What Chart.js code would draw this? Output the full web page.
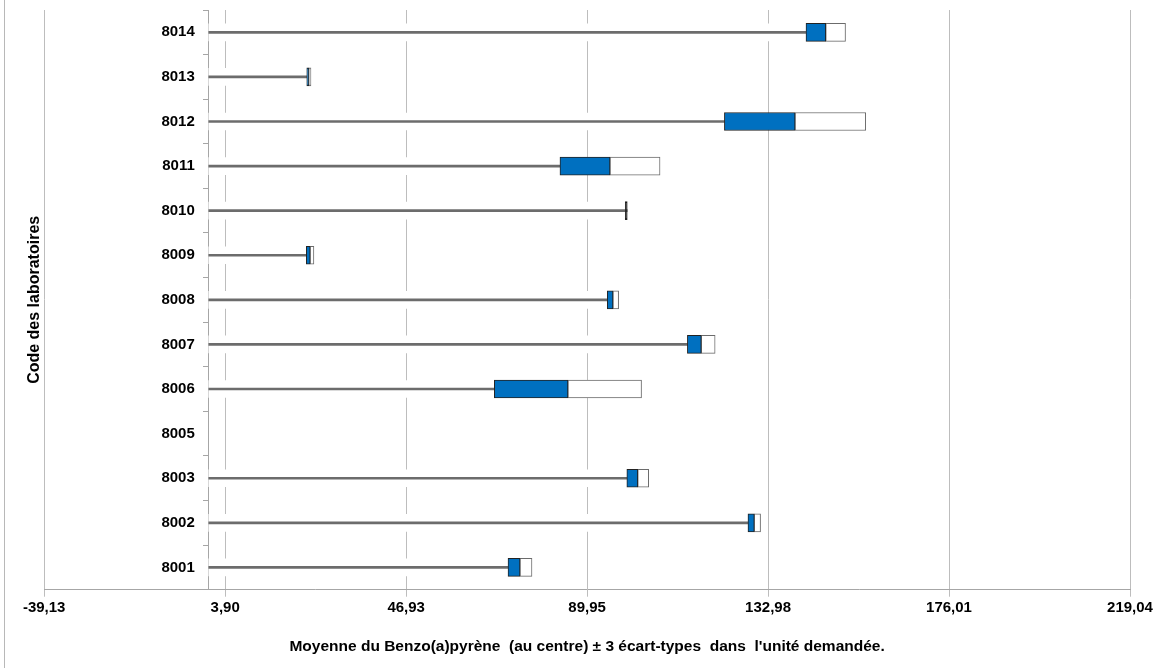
<!DOCTYPE html>
<html lang="fr">
<head>
<meta charset="utf-8">
<title>Benzo(a)pyrène : moyenne ± 3 écart-types par laboratoire</title>
<script src="https://cdn.jsdelivr.net/npm/chart.js@4.4.1/dist/chart.umd.min.js"></script>
<style>
  html, body { margin: 0; padding: 0; background: #fff; }
  #wrap { position: relative; width: 1166px; height: 668px; }
  #cadre { position: absolute; left: 4px; top: 0; width: 1px; height: 668px; background: #b8b8b8; }
  canvas { position: absolute; left: 0; top: 0; }
</style>
</head>
<body>
<div id="wrap">
  <div id="cadre"></div>
  <canvas id="graphique" width="1166" height="668"></canvas>
</div>
<script>
// Codes des laboratoires, du haut vers le bas
const laboratoires = ['8014', '8013', '8012', '8011', '8010', '8009', '8008', '8007', '8006', '8005', '8003', '8002', '8001'];
// Moyenne de chaque laboratoire (null : pas de résultat)
const moyennes = [146.7, 23.8, 139.4, 95.4, 99.5, 24.1, 96.1, 117.1, 85.4, null, 102.0, 129.7, 74.0];
// Trois écarts-types de chaque laboratoire
const troisEcartTypes = [4.7, 0.5, 16.8, 11.9, 0, 0.9, 1.35, 3.3, 17.5, null, 2.6, 1.5, 2.85];
// Graduations de l'axe horizontal
const graduationsX = [-39.13, 3.90, 46.93, 89.95, 132.98, 176.01, 219.04];

const bornesBasses = moyennes.map((m, i) => m == null ? null : m - troisEcartTypes[i]);
const bornesHautes = moyennes.map((m, i) => m == null ? null : m + troisEcartTypes[i]);
const traits = bornesBasses.map(b => b == null ? null : [0, b]);
const partiesBleues = moyennes.map((m, i) => m == null ? null : [bornesBasses[i], m]);
const partiesBlanches = moyennes.map((m, i) => m == null ? null : [m, bornesHautes[i]]);

// Écart (px) entre l'axe des laboratoires et leurs codes
const ECART_CODES = 14;

Chart.defaults.font.family = "'Liberation Sans', Arial, sans-serif";

// Un écart-type nul se réduit à un simple trait noir
const couleurBleue = (ctx) => troisEcartTypes[ctx.dataIndex] === 0 ? '#111111' : '#0070c0';

new Chart(document.getElementById('graphique'), {
  type: 'bar',
  data: {
    labels: laboratoires,
    datasets: [
      { label: 'fond', data: traits, backgroundColor: '#ffffff', borderWidth: 0,
        barThickness: 17, grouped: false, order: 4 },
      { label: 'trait', data: traits, backgroundColor: '#6c6c6c', borderWidth: 0,
        barThickness: 2, grouped: false, order: 3 },
      { label: '+3 écart-types', data: partiesBlanches, backgroundColor: '#ffffff',
        borderColor: '#6b6b6b', borderWidth: 1, borderSkipped: false,
        barThickness: 18, grouped: false, order: 2 },
      { label: '-3 écart-types', data: partiesBleues, backgroundColor: couleurBleue,
        borderColor: '#222222', borderWidth: 1, borderSkipped: false,
        barThickness: 18, minBarLength: 2, grouped: false, order: 1 }
    ]
  },
  options: {
    indexAxis: 'y',
    responsive: false,
    animation: false,
    layout: { padding: { left: 14, right: 36, top: 10, bottom: 8 } },
    plugins: { legend: { display: false }, tooltip: { enabled: false } },
    scales: {
      x: {
        type: 'linear',
        min: -39.13,
        max: 219.04,
        afterBuildTicks: (echelle) => { echelle.ticks = graduationsX.map(v => ({ value: v })); },
        ticks: {
          autoSkip: false, maxRotation: 0, padding: 2, color: '#000',
          font: { size: 15, weight: 'bold' },
          callback: (v) => Number(v).toFixed(2).replace('.', ',')
        },
        grid: { color: '#bdbdbd', lineWidth: 1, tickLength: 7 },
        border: { color: '#a6a6a6' },
        title: {
          display: true,
          text: "Moyenne du Benzo(a)pyrène  (au centre) ± 3 écart-types  dans  l'unité demandée.",
          color: '#000', font: { size: 15.5, weight: 'bold' },
          padding: { top: 18.7, bottom: 4 }
        }
      },
      y: {
        type: 'category',
        position: { x: 0 },
        z: 1,
        offset: true,
        grid: { offset: true, drawOnChartArea: false, tickLength: 5, color: '#a6a6a6' },
        border: { color: '#a6a6a6' },
        ticks: { padding: 0, color: '#000', font: { size: 15, weight: 'bold' } },
        // l'axe passe par x = 0 : les codes sont décalés vers la gauche
        afterUpdate: (echelle) => {
          if (echelle._codesDecales) return;
          const calcul = echelle._computeLabelItems;
          echelle._computeLabelItems = function (zone) {
            const items = calcul.call(this, zone);
            items.forEach(it => {
              if (it.options && it.options.translation) it.options.translation[0] -= ECART_CODES;
            });
            return items;
          };
          echelle._codesDecales = true;
        }
      },
      yTitre: {
        type: 'category',
        axis: 'y',
        position: 'left',
        grid: { display: false, drawTicks: false },
        border: { display: false },
        ticks: { display: false },
        title: {
          display: true, text: 'Code des laboratoires', color: '#000',
          font: { size: 16, weight: 'bold' }, padding: { top: 11, bottom: 0 }
        }
      }
    }
  }
});
</script>
</body>
</html>
